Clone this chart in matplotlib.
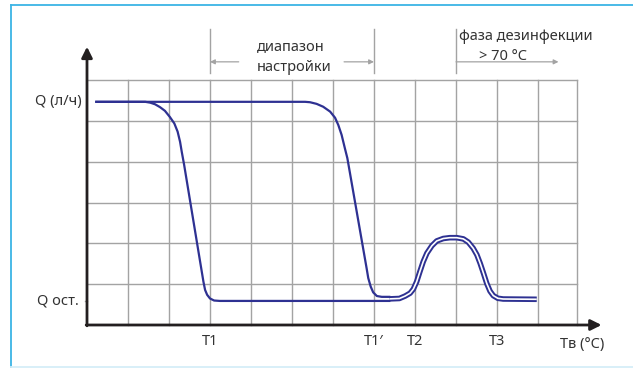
import matplotlib
matplotlib.use("Agg")
import matplotlib.pyplot as plt
from matplotlib.lines import Line2D

plt.rcParams['font.family'] = ['Noto Sans', 'DejaVu Sans']

# ---- data (grid units: 1 column / 1 row) ----
q_max = 5.47          # Q (л/ч)
q_rest = 0.59         # Q ост.

# T1 curve (lower)
curve1_x = [0.20, 1.17, 1.42, 1.54, 1.66, 1.78, 1.90, 2.02, 2.13, 2.21, 2.27, 2.31,
            2.37, 2.84, 2.88, 2.93, 3.00, 3.10, 3.24, 7.40]
curve1_y = [5.47, 5.47, 5.47, 5.45, 5.41, 5.34, 5.25, 5.10, 4.94, 4.74, 4.49, 4.25,
            3.92, 1.06, 0.86, 0.74, 0.65, 0.60, 0.59, 0.59]

# T1' curve (upper)
curve2_x = [0.20, 5.32, 5.44, 5.60, 5.76, 5.93, 6.05, 6.13, 6.21, 6.29, 6.35, 6.82,
            6.86, 6.92, 6.98, 7.07, 7.19, 7.40]
curve2_y = [5.47, 5.47, 5.46, 5.42, 5.35, 5.23, 5.08, 4.90, 4.66, 4.33, 4.09, 1.39,
            1.15, 0.94, 0.80, 0.71, 0.69, 0.69]

# disinfection bump (double line)
bump_x = [7.38, 7.62, 7.76, 7.88, 7.96, 8.04, 8.12, 8.20, 8.29, 8.41, 8.53, 8.69,
          8.85, 9.02, 9.18, 9.30, 9.42, 9.51, 9.59, 9.67, 9.75, 9.83, 9.91, 10.02,
          10.15, 10.97]
bump_y = [0.64, 0.65, 0.71, 0.78, 0.88, 1.06, 1.31, 1.55, 1.76, 1.94, 2.06, 2.12,
          2.14, 2.14, 2.11, 2.03, 1.88, 1.72, 1.51, 1.27, 1.02, 0.83, 0.72, 0.655,
          0.637, 0.63]

x_ticks = [3, 7, 8, 10]
x_labels = ["T1", "T1\u2032", "T2", "T3"]
grid_cols = 11
grid_rows = 6
grid_right = 11.94

navy = "#2e3192"
ink = "#231f20"
grey = "#a3a3a3"
txt = "#333333"
fs = 10.5

fig = plt.figure(figsize=(6.33, 3.68), dpi=100)
ax = fig.add_axes([0, 0, 1, 1])
ax.set_xlim(-87 / 41, (633 - 87) / 41)
ax.set_ylim((325 - 368) / 40.8, 325 / 40.8)
ax.axis('off')

# frame
fig.add_artist(Line2D([11 / 633, 1], [1 - 5 / 368] * 2, color="#3cb4e5", lw=1.3))
fig.add_artist(Line2D([11 / 633] * 2, [1 - 5 / 368, 1 - 366.5 / 368], color="#3cb4e5", lw=1.3))
fig.add_artist(Line2D([11 / 633, 1], [1 - 366.5 / 368] * 2, color="#d6eef8", lw=1.3))

# grid
for i in range(1, grid_cols + 1):
    ax.plot([i, i], [0, grid_rows], color=grey, lw=1.0, zorder=1)
ax.plot([grid_right, grid_right], [0, grid_rows], color=grey, lw=1.0, zorder=1)
for j in range(1, grid_rows + 1):
    ax.plot([0, grid_right], [j, j], color=grey, lw=1.0, zorder=1)

# axes with arrows
ax.annotate('', xy=(12.55, 0), xytext=(-0.02, 0),
            arrowprops=dict(arrowstyle='-|>', color=ink, lw=2.0, mutation_scale=16,
                            shrinkA=0, shrinkB=0), zorder=3)
ax.annotate('', xy=(0, 6.82), xytext=(0, -0.02),
            arrowprops=dict(arrowstyle='-|>', color=ink, lw=2.0, mutation_scale=16,
                            shrinkA=0, shrinkB=0), zorder=3)
ax.plot([-0.05, 0], [q_rest, q_rest], color=grey, lw=1.0)

# curves
ax.plot(curve1_x, curve1_y, color=navy, lw=1.6, solid_capstyle='butt', zorder=4)
ax.plot(curve2_x, curve2_y, color=navy, lw=1.6, solid_capstyle='butt', zorder=4)
ax.plot(bump_x, bump_y, color=navy, lw=4.0, solid_capstyle='butt', zorder=5)
ax.plot(bump_x, bump_y, color="white", lw=1.2, solid_capstyle='butt', zorder=6)

# y labels
ax.text(-0.13, q_max, "Q (л/ч)", ha='right', va='center', fontsize=fs, color=txt)
ax.text(-0.20, q_rest, "Q ост.", ha='right', va='center', fontsize=fs, color=txt)

# x labels
for xv, lab in zip(x_ticks, x_labels):
    ax.text(xv, -0.41, lab, ha='center', va='center', fontsize=fs, color=txt)
ax.text(11.54, -0.49, "Tв (°C)", ha='left', va='center', fontsize=fs, color=txt)

# range annotations
for xv in [3, 7, 9]:
    ax.plot([xv, xv], [6.18, 7.25], color=grey, lw=1.0)
arr = dict(arrowstyle='-|>', color=grey, lw=0.9, mutation_scale=7, shrinkA=0, shrinkB=0)
ax.annotate('', xy=(3.0, 6.45), xytext=(3.7, 6.45), arrowprops=arr)
ax.annotate('', xy=(7.0, 6.45), xytext=(6.27, 6.45), arrowprops=arr)
ax.annotate('', xy=(11.5, 6.45), xytext=(9.0, 6.45), arrowprops=arr)

ax.text(4.14, 6.82, "диапазон", ha='left', va='center', fontsize=fs, color=txt)
ax.text(4.14, 6.30, "настройки", ha='left', va='center', fontsize=fs, color=txt)
ax.text(9.07, 7.07, "фаза дезинфекции", ha='left', va='center', fontsize=fs, color=txt)
ax.text(9.56, 6.59, "> 70 °C", ha='left', va='center', fontsize=fs, color=txt)

fig.savefig("out.png", dpi=100)
